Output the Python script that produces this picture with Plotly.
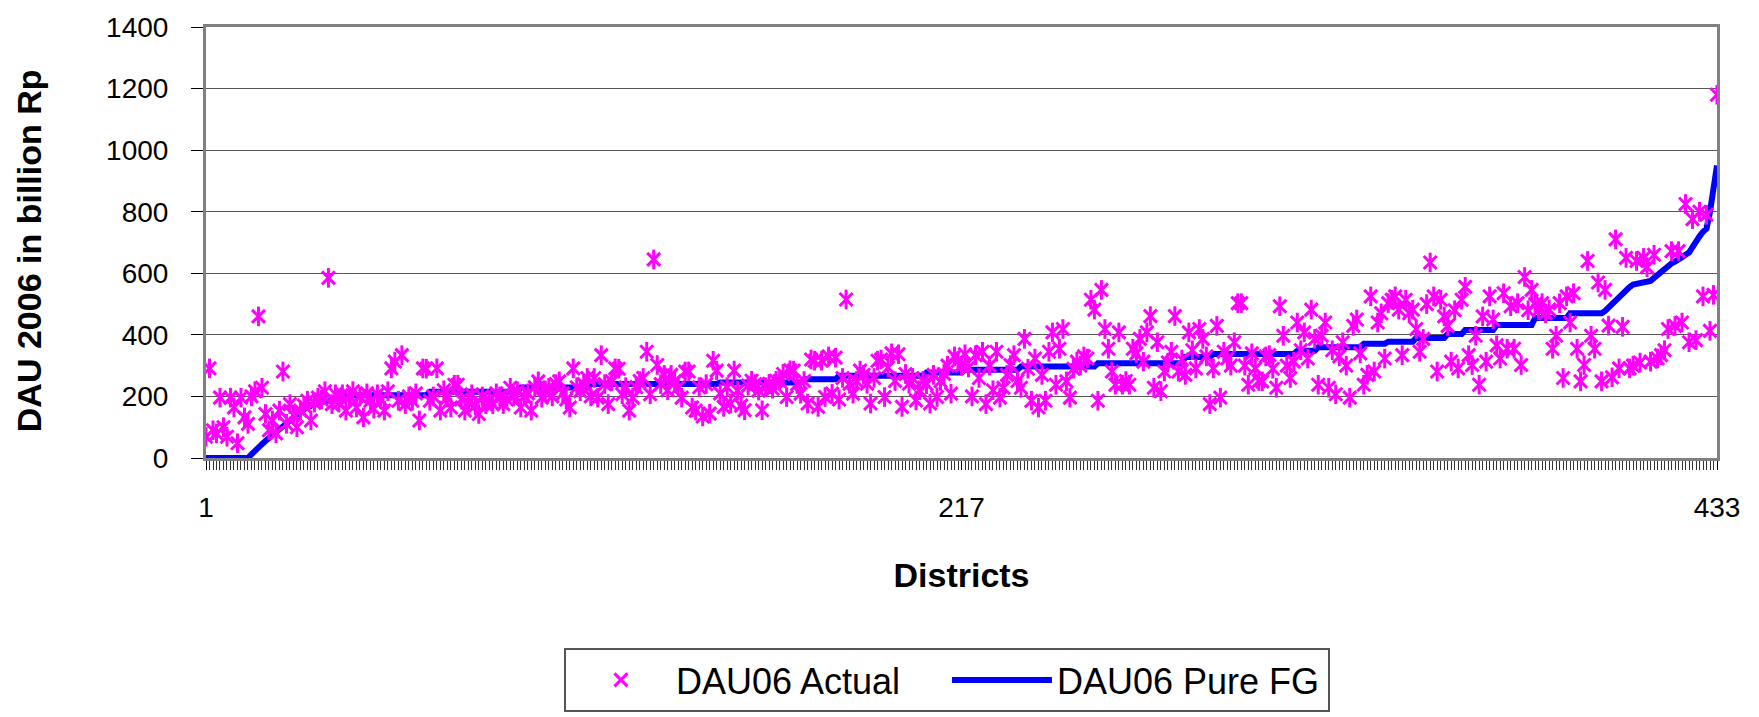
import plotly.graph_objects as go

districts = list(range(1, 434))

dau06_actual = [
    69, 291, 90, 80, 196, 100, 69, 196, 164, 48,
    196, 132, 111, 200, 217, 460, 228, 143, 90, 122,
    80, 154, 281, 111, 175, 140, 100, 154, 170, 186,
    122, 180, 196, 190, 217, 585, 175, 207, 180, 207,
    154, 200, 217, 164, 200, 132, 210, 186, 160, 207,
    190, 154, 217, 291, 313, 186, 334, 175, 200, 186,
    210, 122, 291, 290, 186, 200, 291, 154, 220, 196,
    164, 238, 238, 190, 154, 180, 207, 170, 143, 200,
    175, 190, 175, 210, 200, 175, 190, 228, 200, 217,
    164, 200, 210, 154, 230, 249, 196, 220, 228, 200,
    240, 249, 210, 190, 164, 291, 230, 217, 240, 260,
    200, 260, 196, 334, 240, 175, 249, 291, 290, 207,
    230, 154, 196, 230, 250, 260, 345, 207, 645, 302,
    240, 270, 220, 270, 250, 230, 196, 281, 281, 164,
    154, 230, 135, 240, 144, 316, 284, 210, 166, 230,
    177, 284, 219, 170, 155, 235, 251, 240, 219, 155,
    230, 241, 225, 251, 250, 273, 198, 285, 284, 240,
    209, 250, 177, 320, 316, 166, 316, 198, 330, 209,
    326, 190, 260, 515, 241, 209, 250, 284, 270, 241,
    177, 260, 316, 320, 198, 294, 340, 250, 337, 166,
    273, 241, 260, 187, 220, 251, 240, 177, 270, 198,
    250, 273, 300, 209, 330, 316, 300, 337, 294, 200,
    334, 260, 345, 175, 300, 220, 345, 196, 228, 270,
    302, 334, 250, 228, 387, 290, 186, 323, 164, 270,
    186, 345, 408, 238, 355, 419, 249, 196, 290, 313,
    300, 330, 323, 514, 482, 186, 546, 419, 355, 281,
    238, 408, 238, 250, 238, 355, 340, 387, 313, 408,
    461, 228, 376, 217, 281, 310, 345, 461, 281, 320,
    270, 408, 350, 291, 419, 387, 330, 175, 291, 429,
    196, 345, 323, 300, 376, 503, 503, 300, 238, 340,
    291, 250, 249, 330, 334, 290, 228, 493, 397, 300,
    260, 313, 440, 350, 408, 323, 482, 387, 238, 397,
    440, 228, 350, 207, 330, 376, 300, 196, 429, 450,
    340, 238, 270, 525, 281, 440, 470, 323, 503, 514,
    525, 482, 334, 514, 470, 482, 419, 345, 387, 500,
    635, 525, 281, 514, 460, 429, 313, 480, 291, 514,
    556, 334, 302, 397, 238, 460, 313, 525, 450, 366,
    323, 535, 355, 493, 355, 503, 302, 588, 480, 546,
    500, 480, 503, 470, 482, 355, 397, 503, 260, 525,
    440, 535, 355, 249, 302, 640, 397, 355, 570, 249,
    546, 430, 262, 710, 291, 426, 650, 291, 300, 640,
    310, 650, 620, 313, 660, 323, 334, 350, 419, 672,
    429, 672, 440, 825, 376, 776, 383, 800, 525, 790,
    413, 530, 1180,
]

dau06_pure_fg = [
    0, 0, 0, 0, 0, 0, 0, 0, 0, 0,
    0, 0, 0, 12, 25, 35, 45, 55, 65, 75,
    85, 95, 105, 115, 122, 130, 140, 150, 158, 165,
    170, 175, 179, 182, 185, 188, 190, 192, 194, 196,
    198, 204, 204, 204, 204, 204, 204, 204, 204, 204,
    204, 204, 204, 204, 204, 204, 204, 204, 204, 204,
    204, 204, 204, 204, 215, 215, 215, 215, 215, 215,
    215, 215, 215, 215, 215, 215, 215, 215, 215, 215,
    215, 215, 215, 215, 215, 215, 215, 215, 215, 215,
    229, 229, 229, 229, 229, 229, 229, 229, 229, 229,
    229, 229, 229, 229, 229, 229, 229, 229, 229, 229,
    240, 240, 240, 240, 240, 240, 240, 240, 240, 240,
    240, 240, 240, 240, 240, 240, 240, 240, 240, 240,
    240, 240, 240, 240, 240, 240, 240, 240, 240, 240,
    240, 240, 240, 240, 240, 240, 240, 245, 245, 245,
    245, 245, 245, 245, 245, 245, 245, 245, 245, 245,
    245, 245, 245, 245, 245, 245, 245, 245, 245, 245,
    245, 256, 256, 256, 256, 256, 256, 256, 256, 256,
    256, 267, 267, 267, 267, 267, 267, 267, 267, 267,
    267, 267, 267, 267, 267, 267, 267, 267, 267, 267,
    267, 267, 267, 267, 267, 267, 278, 278, 278, 278,
    278, 278, 278, 278, 278, 278, 278, 287, 287, 287,
    287, 287, 287, 287, 287, 287, 287, 287, 287, 287,
    287, 287, 287, 297, 297, 297, 297, 297, 297, 297,
    297, 297, 297, 297, 297, 297, 297, 297, 297, 297,
    297, 297, 297, 297, 297, 308, 308, 308, 308, 308,
    308, 308, 308, 308, 308, 308, 308, 308, 308, 308,
    308, 308, 308, 308, 308, 308, 308, 308, 308, 308,
    328, 328, 328, 328, 328, 328, 328, 328, 338, 338,
    338, 338, 338, 338, 338, 338, 338, 338, 338, 338,
    338, 338, 338, 338, 338, 338, 338, 338, 338, 338,
    338, 338, 348, 348, 348, 348, 348, 348, 360, 360,
    360, 360, 360, 360, 360, 360, 360, 360, 360, 360,
    360, 371, 371, 371, 371, 371, 371, 371, 378, 378,
    378, 378, 378, 378, 378, 378, 390, 390, 390, 390,
    390, 390, 390, 390, 390, 403, 403, 403, 403, 403,
    416, 416, 416, 416, 416, 416, 416, 416, 416, 432,
    432, 432, 432, 432, 432, 432, 432, 432, 432, 432,
    455, 455, 455, 455, 455, 455, 455, 455, 455, 455,
    470, 470, 470, 470, 470, 470, 470, 470, 470, 470,
    478, 490, 500, 512, 525, 535, 545, 555, 563, 565,
    567, 569, 571, 575, 585, 595, 605, 615, 625, 632,
    638, 643, 652, 660, 667, 685, 705, 720, 735, 745,
    800, 880, 950,
]

x_tick_vals = [1, 217, 433]
x_tick_text = ["1", "217", "433"]
y_tick_vals = [0, 200, 400, 600, 800, 1000, 1200, 1400]

FONT = "Liberation Sans, Arial, sans-serif"
PINK = "#FF00FF"
BLUE = "#0000FF"

fig = go.Figure()

fig.add_trace(go.Scatter(
    x=districts, y=dau06_pure_fg, mode="lines", name="DAU06 Pure FG",
    line=dict(color=BLUE, width=6), legendrank=2, hoverinfo="skip",
))
fig.add_trace(go.Scatter(
    x=districts, y=dau06_actual, mode="markers", name="DAU06 Actual",
    marker=dict(symbol="x-thin-open", size=13, color=PINK,
                line=dict(color=PINK, width=3)),
    legendrank=1, legendgroup="act",
))
fig.add_trace(go.Scatter(
    x=districts, y=dau06_actual, mode="markers", name="DAU06 Actual",
    marker=dict(symbol="line-ns-open", size=14, color=PINK,
                line=dict(color=PINK, width=3)),
    showlegend=False, legendgroup="act",
))

# page body has an 8px margin: figure is sized/offset to compensate
fig.update_layout(
    width=1751, height=709,
    margin=dict(l=198, r=42, t=19, b=259, pad=0, autoexpand=False),
    paper_bgcolor="white", plot_bgcolor="white",
    font=dict(family=FONT, color="black", size=28),
    showlegend=True,
    legend=dict(
        orientation="h", x=0.2369, xanchor="left", y=-0.4408, yanchor="top",
        bordercolor="#555555", borderwidth=2, bgcolor="white",
        font=dict(family=FONT, size=36, color="black"),
        itemwidth=100, traceorder="normal",
        entrywidth=266, entrywidthmode="pixels",
    ),
    annotations=[
        dict(text="<b>DAU 2006 in billion Rp</b>", xref="paper", yref="paper",
             x=-0.1171, y=0.48, xanchor="center", yanchor="middle",
             textangle=-90, showarrow=False,
             font=dict(family=FONT, size=34, color="black")),
    ],
)

fig.update_xaxes(
    range=[1, 433], tickmode="array", tickvals=x_tick_vals, ticktext=x_tick_text,
    ticks="outside", ticklen=9, tickwidth=1, tickcolor="black",
    ticklabelstandoff=13,
    minor=dict(dtick=1, tick0=1, ticks="outside", ticklen=9, tickwidth=1,
               tickcolor="#333333", showgrid=False),
    showgrid=False, zeroline=False,
    showline=True, linecolor="#808080", linewidth=3, mirror=True,
    tickfont=dict(family=FONT, size=28, color="black"),
    title=dict(text="<b>Districts</b>", font=dict(family=FONT, size=34, color="black"),
               standoff=42),
)
fig.update_yaxes(
    range=[0, 1400], tickmode="array", tickvals=y_tick_vals,
    ticks="outside", ticklen=12, tickwidth=1, tickcolor="black",
    ticklabelstandoff=17,
    showgrid=True, gridcolor="#555555", gridwidth=1, zeroline=False,
    showline=True, linecolor="#808080", linewidth=3, mirror=True,
    tickfont=dict(family=FONT, size=28, color="black"),
)

fig.write_html("out.html")
